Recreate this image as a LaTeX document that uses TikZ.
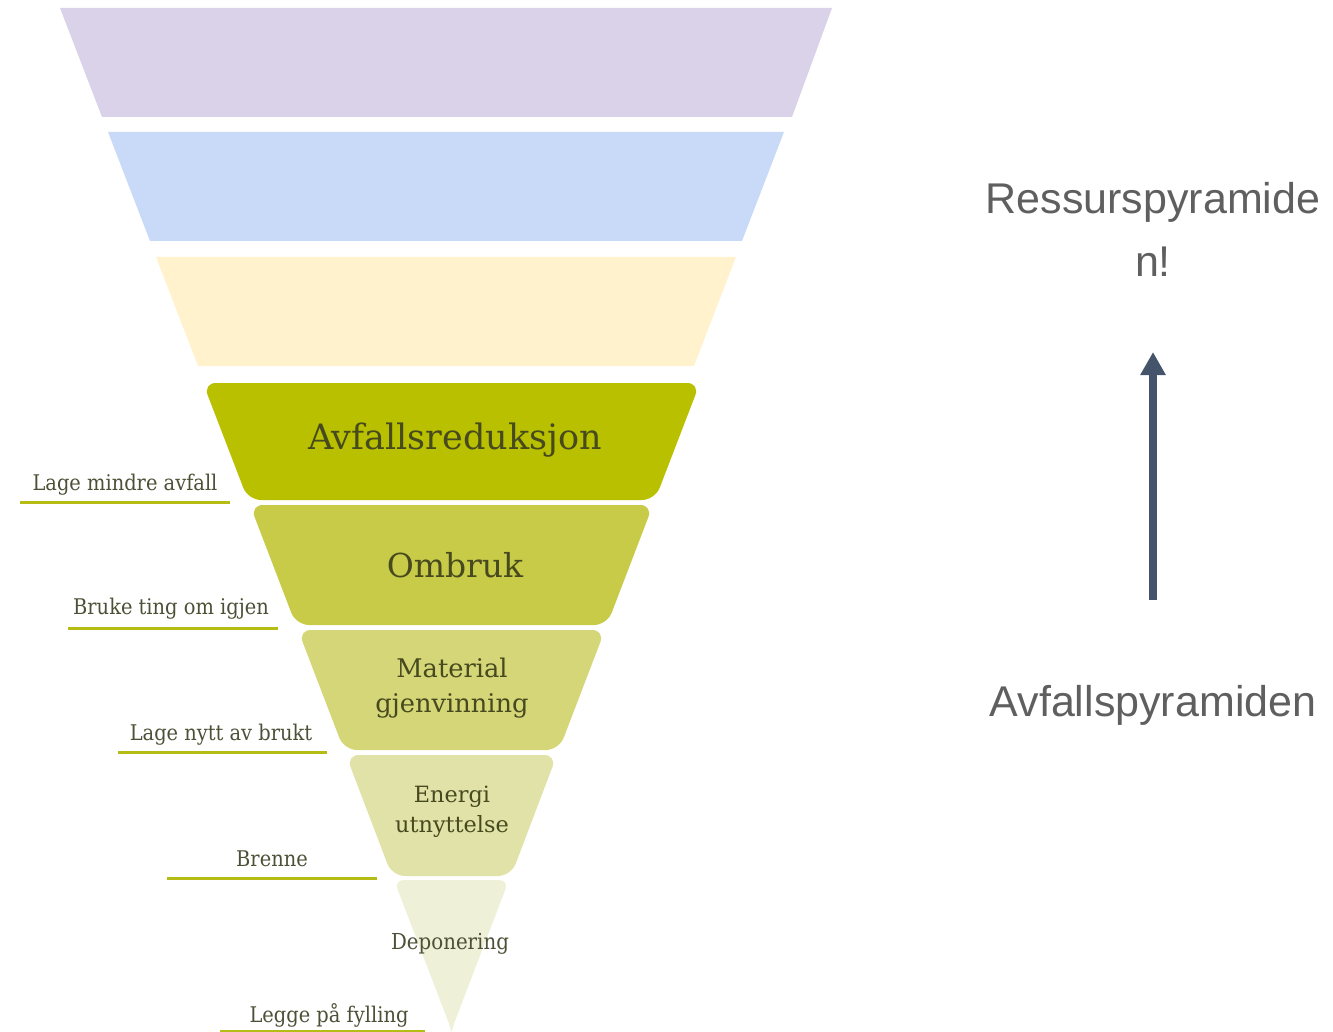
\documentclass[tikz,border=0pt]{standalone}
\usepackage{fontspec}
\setmainfont{DejaVu Serif}
\newfontfamily\labelfont{DejaVu Serif Condensed}
\newfontfamily\arialfont{Liberation Sans}
\usetikzlibrary{arrows.meta}
\definecolor{bandA}{HTML}{D9D2E9}
\definecolor{bandB}{HTML}{C9DAF8}
\definecolor{bandC}{HTML}{FFF2CC}
\definecolor{greenA}{HTML}{B9C000}
\definecolor{greenB}{HTML}{C8CB47}
\definecolor{greenC}{HTML}{D4D677}
\definecolor{greenD}{HTML}{E0E2A8}
\definecolor{greenE}{HTML}{EEF0D8}
\definecolor{olivetext}{HTML}{474A1E}
\definecolor{labeltext}{HTML}{4D5036}
\definecolor{underlinecol}{HTML}{B5BC14}
\definecolor{greytext}{HTML}{5F5F5F}
\definecolor{arrowcol}{HTML}{44546A}
\tikzset{
  bandtext/.style={text=olivetext, align=center, inner sep=0pt},
  sidelabel/.style={text=labeltext, font=\labelfont\fontsize{21.6}{24}\selectfont, inner sep=0pt},
  underline/.style={draw=underlinecol, line width=3pt},
  righttext/.style={text=greytext, font=\arialfont\fontsize{43}{63}\selectfont, align=center, inner sep=0pt}
}
\begin{document}
\begin{tikzpicture}[x=1pt, y=-1pt, line join=round, >=stealth]
\useasboundingbox (0,0) rectangle (1333,1032);
% upper light bands
\fill[bandA] (60,8)--(832,8)--(792,117)--(102,117)--cycle;
\fill[bandB] (108,132)--(784,132)--(742,241)--(150,241)--cycle;
\fill[bandC] (156,257)--(736,257)--(694,366)--(198,366)--cycle;
% green bands
\fill[greenA, rounded corners=13pt] (203,383)--(700,383)--(655,500)--(248,500)--cycle;
\fill[greenB, rounded corners=13pt] (250,505)--(653,505)--(607,625)--(296,625)--cycle;
\fill[greenC, rounded corners=13pt] (298,630)--(605,630)--(559,750)--(344,750)--cycle;
\fill[greenD, rounded corners=13pt] (346,755)--(557,755)--(511,876)--(392,876)--cycle;
\fill[greenE, rounded corners=10pt] (394,880)--(509,880)--(451.5,1030)--cycle;
\fill[greenE] (445,1010)--(458,1010)--(451.5,1032)--cycle;
% texts in the bands
\path (455,440) node[bandtext, font=\fontsize{35}{40}\selectfont] (reduksjon) {Avfallsreduksjon}
      (455,565) node[bandtext, font=\fontsize{33}{38}\selectfont] (ombruk) {Ombruk}
      (452,688) node[bandtext, font=\fontsize{25.7}{35}\selectfont] (material) {Material\\gjenvinning}
      (452,812) node[bandtext, font=\fontsize{22.4}{30}\selectfont] (energi) {Energi\\utnyttelse}
      (450,944) node[bandtext, text=labeltext, font=\labelfont\fontsize{22}{24}\selectfont] (deponering) {Deponering};
% side labels with underlines
\path (125,485) node[sidelabel] (lage) {Lage mindre avfall}
      (171,609) node[sidelabel] (bruke) {Bruke ting om igjen}
      (221,735) node[sidelabel] (nytt) {Lage nytt av brukt}
      (272,859) node[sidelabel] (brenne) {Brenne}
      (329,1015) node[sidelabel] (fylling) {Legge på fylling};
\draw[underline] (20,502)--(230,502);
\draw[underline] (68,628)--(278,628);
\draw[underline] (118,752)--(327,752);
\draw[underline] (167,878)--(377,878);
\draw[underline] (220,1031)--(425,1031);
% right side
\path (1153,229) node[righttext] (ressurs) {Ressurspyramide\\n!}
      (1153,705) node[righttext] (avfall) {Avfallspyramiden};
\coordinate (arrowfoot) at (1153,600);
\coordinate (arrowtip) at (1153,352);
\draw[arrowcol, line width=8pt, -{Triangle[width=24pt,length=23pt]}] (arrowfoot)--(arrowtip);
\end{tikzpicture}
\end{document}
